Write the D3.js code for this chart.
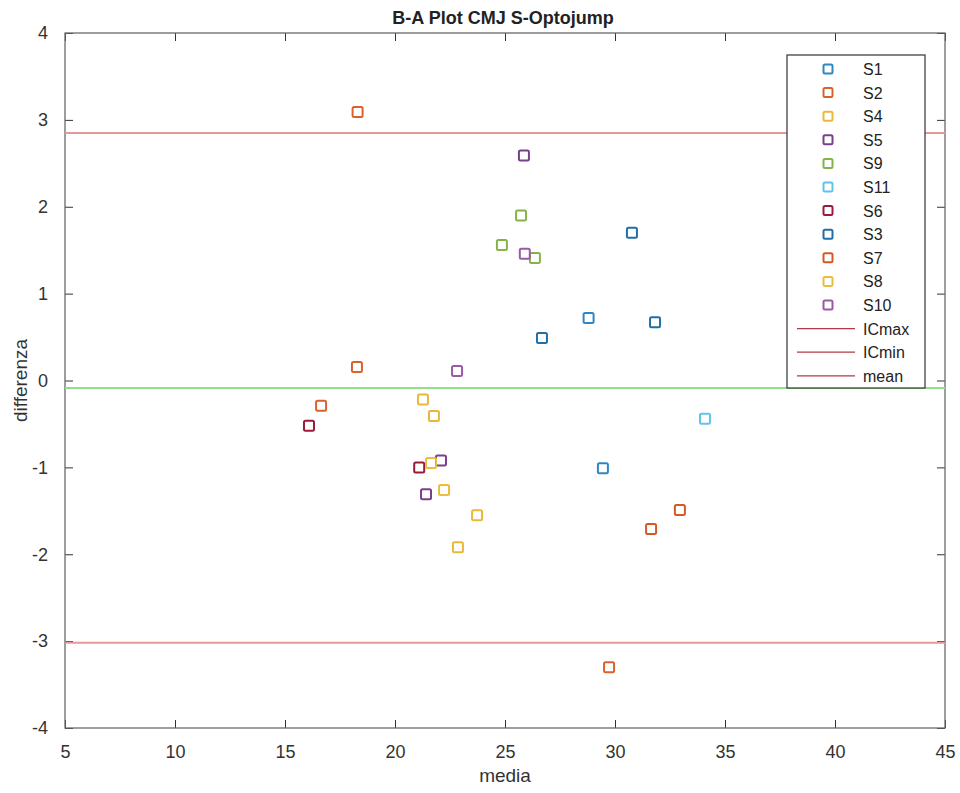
<!DOCTYPE html>
<html lang="en">
<head>
<meta charset="utf-8">
<title>B-A Plot CMJ S-Optojump</title>
<script src="https://d3js.org/d3.v7.min.js"></script>
<style>
    body { margin: 0; background: white; }
    text { font-family: "Liberation Sans", Arial, sans-serif; }
</style>
</head>
<body>
<svg id="chart" width="960" height="793"></svg>
<script>

    // series names, in legend order
    var seriesNames = ["S1", "S2", "S4", "S5", "S9", "S11", "S6", "S3", "S7", "S8", "S10"];
    var seriesColors = ["#2f86c4", "#d9622c", "#e8b83a", "#7a3f8c", "#86b24a", "#60c4ea", "#9a1a3a", "#1f6fa8", "#d35a24", "#eabd3c", "#9a5aa8"];

    // media (x) and differenza (y) values for every series
    var mediaS1 = [28.8, 29.45];
    var diffS1 = [0.72, -1.01];
    var mediaS2 = [18.3, 18.27, 16.64, 29.73];
    var diffS2 = [3.09, 0.155, -0.29, -3.3];
    var mediaS4 = [21.27, 21.77, 23.73, 22.86];
    var diffS4 = [-0.22, -0.41, -1.55, -1.92];
    var mediaS5 = [25.86, 22.09, 21.41];
    var diffS5 = [2.59, -0.92, -1.31];
    var mediaS9 = [25.73, 24.86, 26.36];
    var diffS9 = [1.9, 1.56, 1.41];
    var mediaS11 = [34.09];
    var diffS11 = [-0.44];
    var mediaS6 = [16.09, 21.1];
    var diffS6 = [-0.52, -1.0];
    var mediaS3 = [30.77, 31.82, 26.68];
    var diffS3 = [1.7, 0.67, 0.49];
    var mediaS7 = [32.95, 31.64];
    var diffS7 = [-1.49, -1.71];
    var mediaS8 = [21.64, 22.23];
    var diffS8 = [-0.95, -1.26];
    var mediaS10 = [25.9, 22.82];
    var diffS10 = [1.46, 0.11];

    var mediaAll = [mediaS1, mediaS2, mediaS4, mediaS5, mediaS9, mediaS11, mediaS6, mediaS3, mediaS7, mediaS8, mediaS10];
    var diffAll = [diffS1, diffS2, diffS4, diffS5, diffS9, diffS11, diffS6, diffS3, diffS7, diffS8, diffS10];

    // limit lines
    var lineNames = ["ICmax", "ICmin", "mean"];
    var lineValues = [2.85, -3.02, -0.086];

    var xTicks = [5, 10, 15, 20, 25, 30, 35, 40, 45];
    var yTicks = [-4, -3, -2, -1, 0, 1, 2, 3, 4];

    var plotLeft = 65, plotRight = 945, plotTop = 33, plotBottom = 728;

    var x = d3.scaleLinear().domain([5, 45]).range([plotLeft, plotRight]);
    var y = d3.scaleLinear().domain([-4, 4]).range([plotBottom, plotTop]);

    var svg = d3.select("#chart");

    // axes box with inner ticks on all four sides
    var axisColor = "#6a6a6a";
    var plain = d => String(d);   // keep the hyphen minus like the original
    function styleAxis(g) {
        g.select(".domain").remove();
        g.selectAll(".tick line").attr("stroke", "#333").attr("stroke-width", 1);
        g.selectAll(".tick text").attr("fill", "#333").style("font-size", "18px");
    }

    svg.append("g").attr("transform", "translate(0," + plotBottom + ")")
        .call(d3.axisBottom(x).tickValues(xTicks).tickFormat(plain).tickSizeInner(-8).tickSizeOuter(0).tickPadding(17))
        .call(styleAxis);
    svg.append("g").attr("transform", "translate(0," + plotTop + ")")
        .call(d3.axisTop(x).tickValues(xTicks).tickSizeInner(-8).tickSizeOuter(0).tickFormat(""))
        .call(styleAxis);
    svg.append("g").attr("transform", "translate(" + plotLeft + ",0)")
        .call(d3.axisLeft(y).tickValues(yTicks).tickFormat(plain).tickSizeInner(-8).tickSizeOuter(0).tickPadding(17))
        .call(styleAxis);
    svg.append("g").attr("transform", "translate(" + plotRight + ",0)")
        .call(d3.axisRight(y).tickValues(yTicks).tickSizeInner(-8).tickSizeOuter(0).tickFormat(""))
        .call(styleAxis);

    svg.append("rect")
        .attr("x", plotLeft).attr("y", plotTop)
        .attr("width", plotRight - plotLeft).attr("height", plotBottom - plotTop)
        .attr("fill", "none").attr("stroke", axisColor).attr("stroke-width", 1.3);

    // reference lines
    var lineColors = ["#e49a9a", "#e49a9a", "#8fe08a"];
    svg.selectAll(".refline")
        .data(lineValues)
        .enter().append("line")
        .attr("class", "refline")
        .attr("x1", plotLeft).attr("x2", plotRight)
        .attr("y1", d => y(d)).attr("y2", d => y(d))
        .attr("stroke", (d, i) => lineColors[i])
        .attr("stroke-width", 2);

    // square markers
    var size = 10;
    seriesNames.forEach(function (name, i) {
        var pts = mediaAll[i].map((m, j) => [m, diffAll[i][j]]);
        svg.selectAll(".pt-" + name)
            .data(pts)
            .enter().append("rect")
            .attr("x", d => x(d[0]) - size / 2)
            .attr("y", d => y(d[1]) - size / 2)
            .attr("width", size).attr("height", size)
            .attr("rx", 1.5)
            .attr("fill", "none")
            .attr("stroke", seriesColors[i])
            .attr("stroke-width", 2);
    });

    // title and axis labels
    svg.append("text")
        .attr("x", (plotLeft + plotRight) / 2 - 2).attr("y", 24)
        .attr("text-anchor", "middle")
        .style("font-size", "18px").style("font-weight", "bold")
        .attr("fill", "#222")
        .text("B-A Plot CMJ S-Optojump");

    svg.append("text")
        .attr("x", (plotLeft + plotRight) / 2).attr("y", 782)
        .attr("text-anchor", "middle")
        .style("font-size", "19px")
        .attr("fill", "#333")
        .text("media");

    svg.append("text")
        .attr("transform", "translate(27," + y(0) + ") rotate(-90)")
        .attr("text-anchor", "middle")
        .style("font-size", "19px")
        .attr("fill", "#333")
        .text("differenza");

    // legend
    var lx = 787, ly = 55, lw = 138, lh = 333, step = 23.6;
    var legend = svg.append("g");
    legend.append("rect")
        .attr("x", lx).attr("y", ly).attr("width", lw).attr("height", lh)
        .attr("fill", "white").attr("stroke", "#333").attr("stroke-width", 1.2);

    var entries = seriesNames.concat(lineNames);
    entries.forEach(function (name, i) {
        var cy = ly + 14 + i * step;
        if (i < seriesNames.length) {
            legend.append("rect")
                .attr("x", 828 - 4.5).attr("y", cy - 4.5)
                .attr("width", 9).attr("height", 9)
                .attr("rx", 1.5)
                .attr("fill", "none")
                .attr("stroke", seriesColors[i])
                .attr("stroke-width", 2);
        } else {
            legend.append("line")
                .attr("x1", 797).attr("x2", 855)
                .attr("y1", cy).attr("y2", cy)
                .attr("stroke", "#b23a48").attr("stroke-width", 1.3);
        }
        legend.append("text")
            .attr("x", 863).attr("y", cy + 6)
            .style("font-size", "16px")
            .attr("fill", "#222")
            .text(name);
    });

</script>
</body>
</html>
